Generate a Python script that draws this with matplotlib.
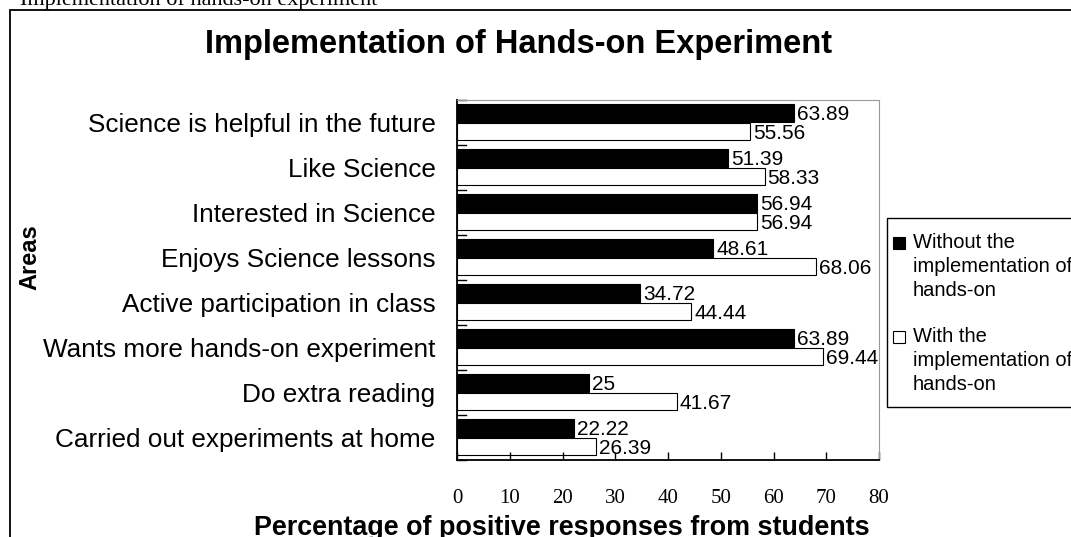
import matplotlib
matplotlib.use("Agg")
import numpy as np
import matplotlib.pyplot as plt
from matplotlib.patches import Rectangle

plt.rcParams["font.family"] = ["Liberation Sans", "DejaVu Sans"]

# 数据
AREAS = [
    "Science is helpful in the future",
    "Like Science",
    "Interested in Science",
    "Enjoys Science lessons",
    "Active participation in class",
    "Wants more hands-on experiment",
    "Do extra reading",
    "Carried out experiments at home",
]
WITHOUT = [63.89, 51.39, 56.94, 48.61, 34.72, 63.89, 25, 22.22]
WITH = [55.56, 58.33, 56.94, 68.06, 44.44, 69.44, 41.67, 26.39]
WITHOUT_LABELS = ["63.89", "51.39", "56.94", "48.61", "34.72", "63.89", "25", "22.22"]
WITH_LABELS = ["55.56", "58.33", "56.94", "68.06", "44.44", "69.44", "41.67", "26.39"]
XTICKS = [0, 10, 20, 30, 40, 50, 60, 70, 80]
LEGEND_LINES = [
    ["Without the", "implementation of", "hands-on"],
    ["With the", "implementation of", "hands-on"],
]
LEGEND_COLORS = ["black", "white"]

W, H = 1071, 537
fig = plt.figure(figsize=(W / 100, H / 100), dpi=100)


def fx(x):
    return x / W


def fy(y):
    return 1 - y / H


# 外框（右、下被裁掉）
fig.add_artist(Rectangle((fx(10), -0.1), 1.2, fy(10) + 0.1,
                         transform=fig.transFigure, fill=False,
                         edgecolor="black", linewidth=1.3))
# 顶部被裁的正文
fig.text(fx(20), fy(5), "Implementation of hands-on experiment",
         family="Liberation Serif", fontsize=16, va="baseline", ha="left")

ax = fig.add_axes([fx(457), fy(460), (879 - 457) / W, 360 / H])
y = np.arange(len(AREAS))
ax.barh(y - 0.22, WITHOUT, height=0.4, color="black", edgecolor="black", linewidth=0.8)
ax.barh(y + 0.2, WITH, height=0.38, color="white", edgecolor="black", linewidth=0.8)

for i in range(len(AREAS)):
    ax.text(WITHOUT[i] + 0.5, y[i] - 0.17, WITHOUT_LABELS[i], fontsize=15,
            va="center", ha="left")
    ax.text(WITH[i] + 0.5, y[i] + 0.24, WITH_LABELS[i], fontsize=15,
            va="center", ha="left")

ax.set_xlim(0, 80)
ax.set_ylim(len(AREAS) - 0.5, -0.5)
ax.set_xticks(XTICKS)
ax.set_xticklabels([str(t) for t in XTICKS], family="Liberation Serif", fontsize=15)
ax.tick_params(axis="x", direction="in", length=6, pad=21, width=1)

ax.set_yticks(y)
ax.set_yticklabels(AREAS, fontsize=18.8)
ax.tick_params(axis="y", length=0, pad=15.5)
# 分组刻度（内向）
for b in np.arange(-0.5, len(AREAS), 1.0):
    ax.plot([0, 1.8], [b, b], color="black", linewidth=1, clip_on=False)

for s in ["top", "right"]:
    ax.spines[s].set_color("#999999")
ax.spines["left"].set_linewidth(1.3)
ax.spines["bottom"].set_linewidth(1.3)

fig.text(fx(562), fy(528), "Percentage of positive responses from students",
         fontsize=19.4, fontweight="bold", ha="center", va="center")
fig.text(fx(30), fy(257), "Areas", rotation=90, fontsize=17,
         fontweight="bold", ha="center", va="center")
fig.text(fx(519), fy(45), "Implementation of Hands-on Experiment",
         fontsize=23.5, fontweight="bold", ha="center", va="center")

# 图例（右侧被裁）
fig.add_artist(Rectangle((fx(887), fy(407)), 0.5, (407 - 218) / H,
                         transform=fig.transFigure, fill=True, facecolor="white",
                         edgecolor="black", linewidth=1))
for k, lines in enumerate(LEGEND_LINES):
    top = 243 + k * 94
    fig.add_artist(Rectangle((fx(893), fy(top + 6)), 12 / W, 12 / H,
                             transform=fig.transFigure,
                             facecolor=LEGEND_COLORS[k], edgecolor="black",
                             linewidth=0.8))
    for j, line in enumerate(lines):
        fig.text(fx(913), fy(top + j * 23.5), line, fontsize=14.5,
                 ha="left", va="center")

plt.savefig("out.png", dpi=100)
